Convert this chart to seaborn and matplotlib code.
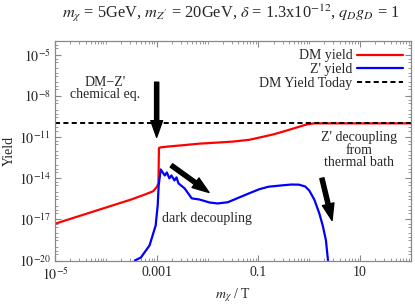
import numpy as np
import pandas as pd
import seaborn as sns
import matplotlib.pyplot as plt
from matplotlib.ticker import FixedLocator, LogLocator, NullFormatter

# values, as log10(m_chi / T) and log10(Yield)
dm_logx = [-5.0, -4.12, -3.5, -3.24, -3.07, -2.99, -2.965, -2.955, -2.92, -2.8, -2.5,
           -2.16, -1.8, -1.5, -1.18, -0.9, -0.7, -0.53, -0.35, -0.2, -0.05, 0.1, 1.0, 2.0]
dm_logy = [-17.32, -16.28, -15.55, -15.2, -14.95, -14.6, -14.35, -11.8, -11.75, -11.7, -11.6,
           -11.48, -11.4, -11.33, -11.2, -10.97, -10.8, -10.62, -10.42, -10.25, -10.08, -10.0, -10.0, -10.0]

zp_logx = [-3.43, -3.31, -3.14, -3.02, -2.98, -2.96, -2.92, -2.84, -2.80, -2.75, -2.71,
           -2.65, -2.61, -2.57, -2.45, -2.31, -2.16, -1.96, -1.8, -1.6, -1.44, -1.18,
           -0.98, -0.8, -0.53, -0.35, -0.2, -0.08, 0.0, 0.1, 0.2, 0.27, 0.33, 0.37]
zp_logy = [-20.0, -19.78, -18.9, -17.45, -16.0, -14.5, -13.36, -13.8, -13.58, -14.01, -13.8,
           -14.16, -13.94, -14.38, -14.74, -15.47, -15.55, -15.77, -15.84, -15.75, -15.5, -15.1,
           -14.8, -14.62, -14.52, -14.46, -14.47, -14.6, -14.89, -15.55, -16.57, -17.5, -18.54, -20.0]

today_logy = -10.0
xlim = (1e-5, 100)
ylim = (1e-20, 1e-4)

sns.set_style("ticks")
plt.rcParams['font.family'] = ['Liberation Serif', 'DejaVu Serif']
plt.rcParams['mathtext.fontset'] = 'stix'
plt.rcParams['font.size'] = 10

dm = pd.DataFrame({'x': 10 ** np.array(dm_logx), 'y': 10 ** np.array(dm_logy)})
zp = pd.DataFrame({'x': 10 ** np.array(zp_logx), 'y': 10 ** np.array(zp_logy)})

fig = plt.figure(figsize=(4.15, 3.04), dpi=100)
ax = fig.add_axes([0.1325, 0.143, 0.8575, 0.722])

sns.lineplot(data=dm, x='x', y='y', ax=ax, color='#ff0000', lw=1.6, label='DM yield', sort=False)
sns.lineplot(data=zp, x='x', y='y', ax=ax, color='#0000ff', lw=1.6, label="Z' yield", sort=False)
ax.axhline(10 ** today_logy, color='k', lw=1.4, ls=(0, (2.6, 1.7)), label='DM Yield Today')

ax.set_xscale('log')
ax.set_yscale('log')
ax.set_xlim(*xlim)
ax.set_ylim(*ylim)

ax.xaxis.set_major_locator(FixedLocator([1e-5, 1e-3, 1e-1, 10]))
ax.set_xticklabels([r'$10^{-5}$', '0.001', '0.1', '10'])
ax.xaxis.set_minor_locator(LogLocator(base=10, subs=np.arange(1, 10), numticks=30))
ax.xaxis.set_minor_formatter(NullFormatter())
ax.yaxis.set_major_locator(FixedLocator([1e-20, 1e-17, 1e-14, 1e-11, 1e-8, 1e-5]))
ax.set_yticklabels([r'$10^{-20}$', r'$10^{-17}$', r'$10^{-14}$', r'$10^{-11}$',
                    r'$10^{-8}$', r'$10^{-5}$'])
ax.yaxis.set_minor_locator(LogLocator(base=10, subs=[1.0, 3.0, 5.0], numticks=40))
ax.yaxis.set_minor_formatter(NullFormatter())

ax.tick_params(which='both', direction='in', top=True, right=True, color='#888888')
ax.tick_params(which='major', length=4, width=0.8, labelsize=10)
ax.tick_params(axis='x', which='major', pad=4)
ax.tick_params(axis='y', which='major', pad=3)
ax.tick_params(which='minor', length=2, width=0.6)
for s in ax.spines.values():
    s.set_color('#888888')
    s.set_linewidth(0.9)

ax.set_xlabel(r'$m_\chi$ / T', fontsize=10, labelpad=3)
ax.set_ylabel('Yield', fontsize=10, labelpad=2)

leg = ax.legend(loc='upper right', frameon=False, markerfirst=False, handlelength=3.3,
                fontsize=10, borderaxespad=0.2, labelspacing=0.05, handletextpad=0.3)

# annotations
arrow = dict(facecolor='black', edgecolor='black', width=3, headwidth=8.5, headlength=12, shrink=0)
ax.annotate('', xy=(1e-3, 10 ** -11.02), xytext=(1e-3, 1e-7), arrowprops=arrow)
ax.annotate('', xy=(10 ** -1.97, 10 ** -15.04), xytext=(10 ** -2.71, 10 ** -13.07), arrowprops=arrow)
ax.annotate('', xy=(10 ** 0.45, 10 ** -17.08), xytext=(10 ** 0.25, 10 ** -14.0), arrowprops=arrow)

ax.text(10 ** -4.02, 10 ** -7.45, "DM\u2212Z'\nchemical eq.", ha='center', va='center',
        fontsize=10, linespacing=0.95)
ax.text(10 ** -2.01, 10 ** -16.93, 'dark decoupling', ha='center', va='center', fontsize=10)
ax.text(10 ** 0.98, 10 ** -11.97, "Z' decoupling\nfrom\nthermal bath", ha='center', va='center',
        fontsize=10, linespacing=0.95)

fig.text(0.557, 0.957,
         r"$m_\chi$ = 5GeV, $m_{Z'}$ = 20GeV, $\delta$ = 1.3x10$^{-12}$, $q_D g_D$ = 1",
         ha='center', va='center', fontsize=11.8)

fig.savefig('out.png', dpi=100)
plt.close(fig)
